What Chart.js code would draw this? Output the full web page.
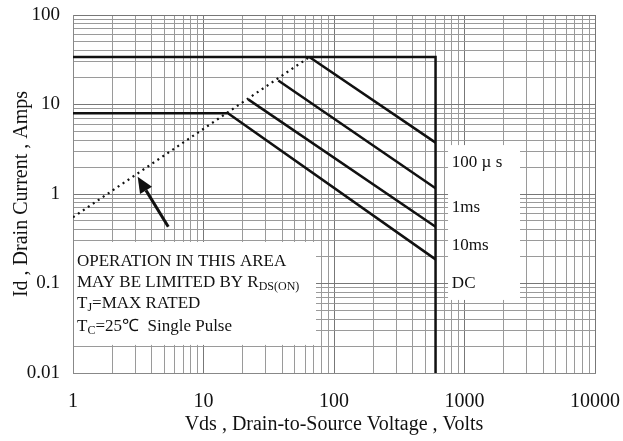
<!DOCTYPE html>
<html><head><meta charset="utf-8">
<script src="https://cdn.jsdelivr.net/npm/chart.js@4/dist/chart.umd.min.js"></script>
<style>html,body{margin:0;padding:0;background:#fff}canvas{display:block}</style>
</head><body>
<canvas id="c" width="623" height="441"></canvas>
<script>
// ---- axis decades and tick labels ----
const xDecades = [1, 10, 100, 1000, 10000];
const yDecades = [0.01, 0.1, 1, 10, 100];
const xTickLabels = ['1', '10', '100', '1000', '10000'];
const yTickLabels = ['0.01', '0.1', '1', '10', '100'];

// ---- safe operating area curves (Vds volts, Id amps) ----
const limitV = [1, 600, 600];
const limitI = [34, 34, 0.01];
const us100V = [64.7, 600];
const us100I = [34, 3.75];
const ms1V = [37.4, 600];
const ms1I = [18.5, 1.16];
const ms10V = [22, 600];
const ms10I = [11.4, 0.43];
const dcV = [1, 15.4, 600];
const dcI = [8, 8, 0.186];
const rdsV = [1, 65];
const rdsI = [0.55, 34];
const arrowV = [5.37, 3.13];   // tail, tip
const arrowI = [0.43, 1.56];

// ---- curve labels ----
const curveLabels = ['100 \u00b5 s', '1ms', '10ms', 'DC'];
const curveLabelV = [800, 800, 800, 800];
const curveLabelI = [2.22, 0.70, 0.269, 0.0987];

const FONT = '"Liberation Serif", "Times New Roman", serif';
const pts = (xs, ys) => xs.map((x, i) => ({x: x, y: ys[i]}));
const isDecade = (v, arr) => arr.findIndex(d => Math.abs(v / d - 1) < 1e-6);

function minorTicks(decs) {
  const t = [];
  decs.forEach((d, i) => {
    for (let k = 1; k < 10; k++) {
      if (i === decs.length - 1 && k > 1) break;
      t.push({value: +(d * k).toPrecision(6)});
    }
  });
  return t;
}
function noPad(s) { s.paddingTop = 0; s.paddingBottom = 0; s.paddingLeft = 0; s.paddingRight = 0; }

const lineStyle = {borderColor: '#111', borderWidth: 2.5, pointRadius: 0, fill: false, showLine: true, tension: 0};

const annotate = {
  id: 'annotate',
  beforeDatasetsDraw(chart) {
    const {ctx, scales: {x, y}} = chart;
    ctx.save();
    ctx.fillStyle = '#fff';
    const l1 = x.getPixelForValue(1) + 1, r1 = x.getPixelForValue(72.8);
    const t1 = y.getPixelForValue(0.291), b1 = y.getPixelForValue(0.0206);
    ctx.fillRect(l1, t1, r1 - l1, b1 - t1);
    const l2 = x.getPixelForValue(748), r2 = x.getPixelForValue(2663);
    const t2 = y.getPixelForValue(3.52), b2 = y.getPixelForValue(0.0655);
    ctx.fillRect(l2, t2, r2 - l2, b2 - t2);
    ctx.restore();
  },
  afterDatasetsDraw(chart) {
    const {ctx, scales: {x, y}} = chart;
    ctx.save();
    ctx.fillStyle = '#111';
    ctx.textBaseline = 'alphabetic';
    ctx.textAlign = 'left';
    function runs(px, py, parts) {
      let cx = px;
      parts.forEach(p => {
        ctx.font = (p.s || 17) + 'px ' + FONT;
        ctx.fillText(p.t, cx, py + (p.dy || 0));
        cx += ctx.measureText(p.t).width + (p.gap || 0);
      });
    }
    const lx = x.left + 4;
    runs(lx, 266, [{t: 'OPERATION IN THIS AREA'}]);
    runs(lx, 287, [{t: 'MAY BE LIMITED BY R'}, {t: 'DS(ON)', s: 12, dy: 3}]);
    runs(lx, 308, [{t: 'T'}, {t: 'J', s: 12, dy: 3}, {t: '=MAX RATED'}]);
    runs(lx, 331, [{t: 'T'}, {t: 'C', s: 12, dy: 3}, {t: '=25\u2103  Single Pulse'}]);

    ctx.textBaseline = 'middle';
    ctx.font = '17px ' + FONT;
    curveLabels.forEach((t, i) => {
      ctx.fillText(t, x.getPixelForValue(curveLabelV[i]), y.getPixelForValue(curveLabelI[i]));
    });

    const x0 = x.getPixelForValue(arrowV[0]), y0 = y.getPixelForValue(arrowI[0]);
    const x1 = x.getPixelForValue(arrowV[1]), y1 = y.getPixelForValue(arrowI[1]);
    const ang = Math.atan2(y1 - y0, x1 - x0);
    const hl = 16, hw = 7;
    const bx = x1 - hl * Math.cos(ang), by = y1 - hl * Math.sin(ang);
    ctx.strokeStyle = '#111';
    ctx.lineWidth = 3;
    ctx.beginPath(); ctx.moveTo(x0, y0); ctx.lineTo(bx, by); ctx.stroke();
    ctx.beginPath();
    ctx.moveTo(x1, y1);
    ctx.lineTo(bx + hw * Math.sin(ang), by - hw * Math.cos(ang));
    ctx.lineTo(bx - hw * Math.sin(ang), by + hw * Math.cos(ang));
    ctx.closePath(); ctx.fill();
    ctx.restore();
  }
};

new Chart(document.getElementById('c'), {
  type: 'scatter',
  data: {
    datasets: [
      Object.assign({data: pts(limitV, limitI)}, lineStyle),
      Object.assign({data: pts(us100V, us100I)}, lineStyle),
      Object.assign({data: pts(ms1V, ms1I)}, lineStyle),
      Object.assign({data: pts(ms10V, ms10I)}, lineStyle),
      Object.assign({data: pts(dcV, dcI)}, lineStyle),
      Object.assign({data: pts(rdsV, rdsI)}, lineStyle, {borderWidth: 2.2, borderDash: [2, 4]})
    ]
  },
  options: {
    responsive: false,
    animation: false,
    devicePixelRatio: 1,
    layout: {padding: {left: 0, right: 28, top: 15, bottom: 0}},
    plugins: {legend: {display: false}, tooltip: {enabled: false}},
    scales: {
      x: {
        type: 'logarithmic', position: 'bottom', min: 1, max: 10000,
        afterBuildTicks: s => { s.ticks = minorTicks(xDecades); },
        afterFit: s => { s.height = 68; noPad(s); },
        grid: {drawTicks: false, lineWidth: 1, color: c => isDecade(c.tick.value, xDecades) >= 0 ? '#777' : '#9a9a9a'},
        border: {display: true, color: '#888'},
        ticks: {
          autoSkip: false, maxRotation: 0, padding: 17, color: '#111',
          font: {family: FONT, size: 20},
          callback: v => { const i = isDecade(v, xDecades); return i >= 0 ? xTickLabels[i] : ''; }
        },
        title: {display: true, text: 'Vds , Drain-to-Source Voltage , Volts', color: '#111',
          font: {family: FONT, size: 20}, padding: {top: 0, bottom: 4}}
      },
      y: {
        type: 'logarithmic', position: 'left', min: 0.01, max: 100,
        afterBuildTicks: s => { s.ticks = minorTicks(yDecades); },
        afterFit: s => { s.width = 73; noPad(s); },
        grid: {drawTicks: false, lineWidth: 1, color: c => isDecade(c.tick.value, yDecades) >= 0 ? '#777' : '#9a9a9a'},
        border: {display: true, color: '#888'},
        ticks: {
          autoSkip: false, padding: 13, color: '#111',
          font: {family: FONT, size: 19},
          callback: v => { const i = isDecade(v, yDecades); return i >= 0 ? yTickLabels[i] : ''; }
        },
        title: {display: true, text: 'Id , Drain Current , Amps', color: '#111',
          font: {family: FONT, size: 20}, padding: {top: 10, bottom: 0}}
      }
    }
  },
  plugins: [annotate]
});
</script>
</body></html>
